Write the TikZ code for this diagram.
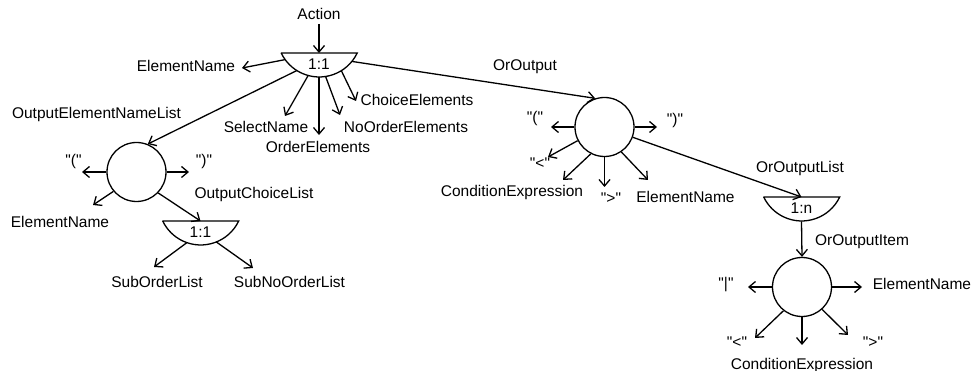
\documentclass[tikz,border=0pt]{standalone}
\usepackage{fontspec}
\setmainfont{Liberation Sans}
\usetikzlibrary{arrows.meta,calc}

% straight double quote (the TeX mapping would curl a typed one)
\newcommand\dq{\textquotedbl}

\tikzset{
  lab/.style={font=\fontsize{15.5}{18}\selectfont, inner sep=1pt},
  ring/.style={draw, circle, minimum size=59pt, inner sep=0pt, line width=1.3pt},
  segbox/.style={rectangle, minimum width=76pt, minimum height=24pt, inner sep=0pt,
                 anchor=north, font=\fontsize{15.5}{18}\selectfont},
  segline/.style={line width=1.3pt},
  conn/.style={line width=1.3pt, -{Straight Barb[length=6.5pt,width=11pt]}},
}

% circular segment (flat top, round bottom) around a segbox node,
% plus the centre of its arc as coordinate <name>c
\newcommand\segoutline[1]{%
  \draw[segline] (#1.north west) -- (#1.north east)
     arc[start angle=334.5, end angle=205.5, radius=42.1] -- cycle;
  \coordinate (#1c) at ($(#1.north)+(0,18.1)$);}

\begin{document}
\begin{tikzpicture}[x=1pt,y=1pt]
\useasboundingbox (0,0) rectangle (975,-371);

% --- choice / sequence shapes ---
\node[segbox] (h1) at (319,-53) {\raisebox{1.5pt}{1:1}};
\node[segbox] (h2) at (200.5,-221) {\raisebox{1.5pt}{1:1}};
\node[segbox] (h3) at (801.5,-197) {\raisebox{1.5pt}{1:n}};
\segoutline{h1}
\segoutline{h2}
\segoutline{h3}
\node[ring] (c1) at (136.5,-172) {};
\node[ring] (c2) at (604.5,-127) {};
\node[ring] (c3) at (802,-287) {};

% --- labels ---
\node[lab] (act)  at (319,-14)   {Action};
\node[lab] (enA)  at (186,-66)   {ElementName};
\node[lab] (oenl) at (96.5,-114) {OutputElementNameList};
\node[lab] (sel)  at (266,-127)  {SelectName};
\node[lab] (ord)  at (318,-147)  {OrderElements};
\node[lab] (nord) at (406,-127)  {NoOrderElements};
\node[lab] (choi) at (417,-100)  {ChoiceElements};
\node[lab] (oro)  at (525,-67)   {OrOutput};
\node[lab] (lpA)  at (73.5,-161) {\dq(\dq};
\node[lab] (rpA)  at (204,-161)  {\dq)\dq};
\node[lab] (enB)  at (60,-222)   {ElementName};
\node[lab] (ocl)  at (254,-194)  {OutputChoiceList};
\node[lab] (sol)  at (157,-282)  {SubOrderList};
\node[lab] (snol) at (289.5,-282){SubNoOrderList};
\node[lab] (lpB)  at (535,-118)  {\dq(\dq};
\node[lab] (rpB)  at (675,-120)  {\dq)\dq};
\node[lab] (ltB)  at (540,-163)  {\dq<\dq};
\node[lab] (ceB)  at (512,-192)  {ConditionExpression};
\node[lab] (gtB)  at (611,-198)  {\dq>\dq};
\node[lab] (enC)  at (685.5,-197){ElementName};
\node[lab] (orol) at (800,-168)  {OrOutputList};
\node[lab] (oroi) at (862,-242)  {OrOutputItem};
\node[lab] (bar)  at (726,-285)  {\dq|\dq};
\node[lab] (enD)  at (922,-284)  {ElementName};
\node[lab] (ltC)  at (737,-342)  {\dq<\dq};
\node[lab] (ceC)  at (802,-365)  {ConditionExpression};
\node[lab] (gtC)  at (873,-342)  {\dq>\dq};

% --- arrow tips pointing at the labels ---
\coordinate (tEnA)  at (242,-68);
\coordinate (tSel)  at (285,-116);
\coordinate (tOrd)  at (319,-135);
\coordinate (tNord) at (340,-115);
\coordinate (tChoi) at (356,-101);
\coordinate (tLpA)  at (82,-172);
\coordinate (tRpA)  at (189,-172);
\coordinate (tEnB)  at (93,-205);
\coordinate (tSol)  at (154,-267);
\coordinate (tSnol) at (253,-268);
\coordinate (tLpB)  at (551,-127);
\coordinate (tRpB)  at (657,-127);
\coordinate (tLtB)  at (548,-157);
\coordinate (tCeB)  at (563,-180);
\coordinate (tGtB)  at (604.5,-187);
\coordinate (tEnC)  at (648,-180);
\coordinate (tBar)  at (748,-287);
\coordinate (tEnD)  at (862,-287);
\coordinate (tLtC)  at (755,-338);
\coordinate (tCeC)  at (802,-345);
\coordinate (tGtC)  at (848,-335);

% --- connectors ---
\draw[conn, shorten <=3pt] (act) -- (h1.north);
\draw[conn] ([shift={(216:42.1)}]h1c) -- (tEnA);
\draw[conn] ([shift={(238:42.1)}]h1c) -- (c1.68);
\draw[conn] ([shift={(255:42.1)}]h1c) -- (tSel);
\draw[conn] ([shift={(270:42.1)}]h1c) -- (tOrd);
\draw[conn] ([shift={(279:42.1)}]h1c) -- (tNord);
\draw[conn] ([shift={(302:42.1)}]h1c) -- (tChoi);
\draw[conn] ([shift={(321:42.1)}]h1c) -- (c2.108);

\draw[conn] (c1.west) -- (tLpA);
\draw[conn] (c1.east) -- (tRpA);
\draw[conn] (c1.220) -- (tEnB);
\draw[conn] (c1.316) -- (h2.north);

\draw[conn] ([shift={(251:42.1)}]h2c) -- (tSol);
\draw[conn] ([shift={(292:42.1)}]h2c) -- (tSnol);

\draw[conn] (c2.west) -- (tLpB);
\draw[conn] (c2.east) -- (tRpB);
\draw[conn] (c2.207) -- (tLtB);
\draw[conn] (c2.243) -- (tCeB);
\draw[conn] (c2.south) -- (tGtB);
\draw[conn] (c2.304) -- (tEnC);
\draw[conn] (c2.340) -- (h3.north);

\draw[conn] (h3.south) -- (c3.north);

\draw[conn] (c3.west) -- (tBar);
\draw[conn] (c3.east) -- (tEnD);
\draw[conn] (c3.232) -- (tLtC);
\draw[conn] (c3.south) -- (tCeC);
\draw[conn] (c3.312) -- (tGtC);
\end{tikzpicture}
\end{document}
